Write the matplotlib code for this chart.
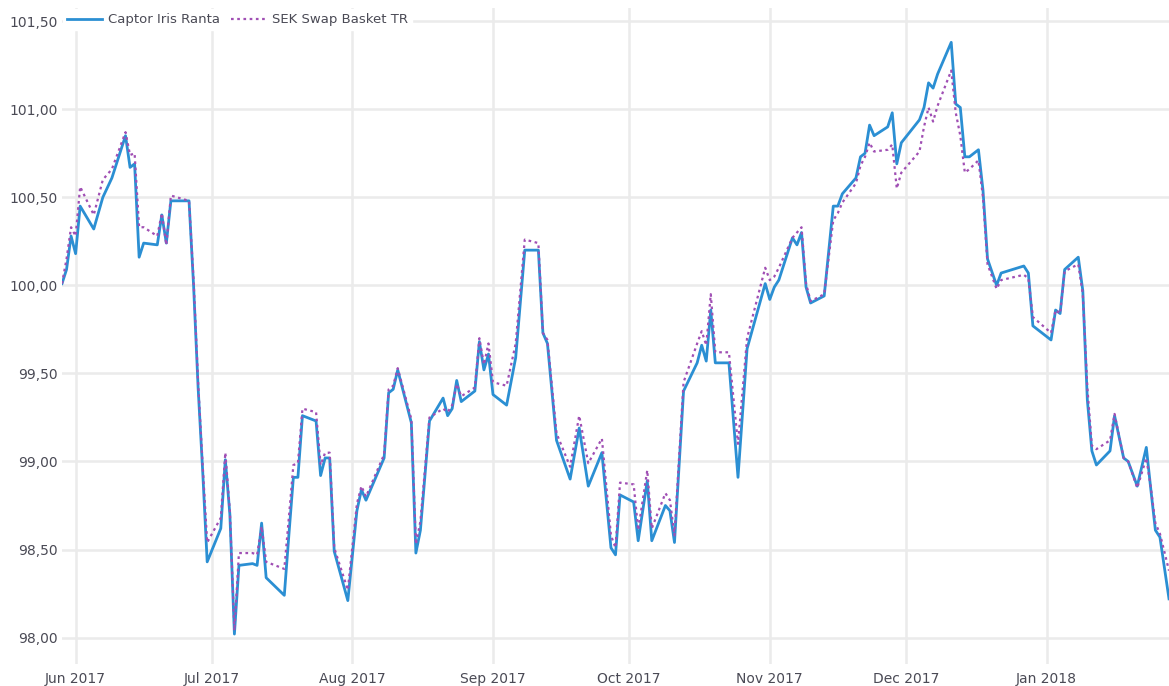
import numpy as np
import pandas as pd
import matplotlib
matplotlib.use('Agg')
import matplotlib.pyplot as plt
import matplotlib.dates as mdates
from matplotlib.ticker import FuncFormatter

dates = [
    '2017-05-29', '2017-05-30', '2017-05-31', '2017-06-01', '2017-06-02',
    '2017-06-05', '2017-06-07', '2017-06-09', '2017-06-12', '2017-06-13',
    '2017-06-14', '2017-06-15', '2017-06-16', '2017-06-19', '2017-06-20',
    '2017-06-21', '2017-06-22', '2017-06-26', '2017-06-27', '2017-06-28',
    '2017-06-29', '2017-06-30', '2017-07-03', '2017-07-04', '2017-07-05',
    '2017-07-06', '2017-07-07', '2017-07-10', '2017-07-11', '2017-07-12',
    '2017-07-13', '2017-07-17', '2017-07-18', '2017-07-19', '2017-07-20',
    '2017-07-21', '2017-07-24', '2017-07-25', '2017-07-26', '2017-07-27',
    '2017-07-28', '2017-07-31', '2017-08-02', '2017-08-03', '2017-08-04',
    '2017-08-08', '2017-08-09', '2017-08-10', '2017-08-11', '2017-08-14',
    '2017-08-15', '2017-08-16', '2017-08-18', '2017-08-21', '2017-08-22',
    '2017-08-23', '2017-08-24', '2017-08-25', '2017-08-28', '2017-08-29',
    '2017-08-30', '2017-08-31', '2017-09-01', '2017-09-04', '2017-09-06',
    '2017-09-08', '2017-09-11', '2017-09-12', '2017-09-13', '2017-09-15',
    '2017-09-18', '2017-09-20', '2017-09-22', '2017-09-25', '2017-09-27',
    '2017-09-28', '2017-09-29', '2017-10-02', '2017-10-03', '2017-10-05',
    '2017-10-06', '2017-10-09', '2017-10-10', '2017-10-11', '2017-10-13',
    '2017-10-16', '2017-10-17', '2017-10-18', '2017-10-19', '2017-10-20',
    '2017-10-23', '2017-10-25', '2017-10-27', '2017-10-31', '2017-11-01',
    '2017-11-02', '2017-11-03', '2017-11-06', '2017-11-07', '2017-11-08',
    '2017-11-09', '2017-11-10', '2017-11-13', '2017-11-15', '2017-11-16',
    '2017-11-17', '2017-11-20', '2017-11-21', '2017-11-22', '2017-11-23',
    '2017-11-24', '2017-11-27', '2017-11-28', '2017-11-29', '2017-11-30',
    '2017-12-04', '2017-12-05', '2017-12-06', '2017-12-07', '2017-12-08',
    '2017-12-11', '2017-12-12', '2017-12-13', '2017-12-14', '2017-12-15',
    '2017-12-17', '2017-12-18', '2017-12-19', '2017-12-21', '2017-12-22',
    '2017-12-27', '2017-12-28', '2017-12-29', '2018-01-02', '2018-01-03',
    '2018-01-04', '2018-01-05', '2018-01-08', '2018-01-09', '2018-01-10',
    '2018-01-11', '2018-01-12', '2018-01-15', '2018-01-16', '2018-01-18',
    '2018-01-19', '2018-01-21', '2018-01-23', '2018-01-24', '2018-01-25',
    '2018-01-26', '2018-01-28',
]

captor = [
    100.01, 100.09, 100.28, 100.18, 100.45,
    100.32, 100.50, 100.61, 100.85, 100.67,
    100.69, 100.16, 100.24, 100.23, 100.40,
    100.24, 100.48, 100.48, 100.00, 99.42,
    98.95, 98.43, 98.62, 99.01, 98.70,
    98.02, 98.41, 98.42, 98.41, 98.65,
    98.34, 98.24, 98.58, 98.91, 98.91,
    99.26, 99.23, 98.92, 99.02, 99.02,
    98.49, 98.21, 98.72, 98.84, 98.78,
    99.02, 99.39, 99.41, 99.52, 99.22,
    98.48, 98.61, 99.23, 99.36, 99.26,
    99.30, 99.46, 99.34, 99.40, 99.68,
    99.52, 99.61, 99.38, 99.32, 99.59,
    100.20, 100.20, 99.73, 99.67, 99.12,
    98.90, 99.19, 98.86, 99.05, 98.51,
    98.47, 98.81, 98.77, 98.55, 98.89,
    98.55, 98.75, 98.72, 98.54, 99.40,
    99.56, 99.66, 99.57, 99.86, 99.56,
    99.56, 98.91, 99.64, 100.01, 99.92,
    99.99, 100.03, 100.27, 100.23, 100.30,
    99.99, 99.90, 99.94, 100.45, 100.45,
    100.52, 100.61, 100.73, 100.75, 100.91,
    100.85, 100.90, 100.98, 100.69, 100.81,
    100.94, 101.01, 101.15, 101.12, 101.20,
    101.38, 101.03, 101.01, 100.73, 100.73,
    100.77, 100.54, 100.15, 100.00, 100.07,
    100.11, 100.07, 99.77, 99.69, 99.86,
    99.84, 100.09, 100.16, 99.97, 99.35,
    99.06, 98.98, 99.06, 99.26, 99.02,
    99.00, 98.86, 99.08, 98.84, 98.61,
    98.57, 98.22,
]

sek_swap = [
    100.01, 100.15, 100.33, 100.28, 100.56,
    100.40, 100.60, 100.66, 100.87, 100.74,
    100.75, 100.33, 100.33, 100.28, 100.41,
    100.23, 100.51, 100.48, 100.03, 99.45,
    98.98, 98.54, 98.68, 99.05, 98.72,
    98.04, 98.48, 98.48, 98.47, 98.63,
    98.43, 98.39, 98.68, 98.98, 98.99,
    99.30, 99.28, 98.98, 99.05, 99.05,
    98.51, 98.27, 98.76, 98.86, 98.80,
    99.04, 99.41, 99.43, 99.53, 99.24,
    98.53, 98.66, 99.25, 99.30, 99.28,
    99.32, 99.44, 99.37, 99.42, 99.70,
    99.55, 99.67, 99.45, 99.43, 99.67,
    100.26, 100.24, 99.73, 99.69, 99.16,
    98.97, 99.26, 98.99, 99.13, 98.58,
    98.51, 98.88, 98.87, 98.61, 98.95,
    98.62, 98.82, 98.78, 98.58, 99.45,
    99.67, 99.74, 99.66, 99.95, 99.62,
    99.62, 99.10, 99.70, 100.10, 100.03,
    100.05, 100.10, 100.27, 100.30, 100.33,
    100.01, 99.91, 99.95, 100.37, 100.41,
    100.47, 100.58, 100.68, 100.73, 100.81,
    100.76, 100.77, 100.80, 100.55, 100.64,
    100.76, 100.90, 101.01, 100.93, 101.02,
    101.22, 100.98, 100.85, 100.64, 100.66,
    100.71, 100.50, 100.12, 99.98, 100.03,
    100.06, 100.04, 99.82, 99.73, 99.86,
    99.84, 100.08, 100.12, 99.95, 99.42,
    99.09, 99.07, 99.12, 99.27, 99.02,
    99.00, 98.85, 99.02, 98.85, 98.65,
    98.59, 98.38,
]

y_ticks = [98.0, 98.5, 99.0, 99.5, 100.0, 100.5, 101.0, 101.5]
month_ticks = ['2017-06-01', '2017-07-01', '2017-08-01', '2017-09-01',
               '2017-10-01', '2017-11-01', '2017-12-01', '2018-01-01']

x = pd.to_datetime(dates)

fig = plt.figure(figsize=(11.69, 6.86), dpi=100)
ax = fig.add_axes([62 / 1169, 22 / 686, 1 - 62 / 1169, 656 / 686])

ax.plot(x, captor, color='#2b8fd3', lw=2.0, label='Captor Iris Ranta', zorder=3)
ax.plot(x, sek_swap, color='#a04fb4', lw=1.6, ls=(0, (1.2, 1.6)),
        label='SEK Swap Basket TR', zorder=4)

ax.set_xlim(x[0], x[-1])
ax.set_ylim(97.85, 101.575)

ax.set_yticks(y_ticks)
ax.yaxis.set_major_formatter(FuncFormatter(lambda v, p: f'{v:.2f}'.replace('.', ',')))
ax.set_xticks(pd.to_datetime(month_ticks))
ax.xaxis.set_major_formatter(mdates.DateFormatter('%b %Y'))

ax.grid(True, color='#ebebeb', lw=1.8)
ax.set_axisbelow(True)
for s in ax.spines.values():
    s.set_visible(False)
ax.tick_params(length=0, labelsize=10, colors='#4a4a55')
ax.tick_params(axis='y', pad=3)
ax.tick_params(axis='x', pad=6)

leg = ax.legend(loc='upper left', bbox_to_anchor=(0.0, 1.0), ncol=2,
                frameon=True, fontsize=9.5, handlelength=2.6,
                columnspacing=0.8, handletextpad=0.5, borderaxespad=0.1,
                borderpad=0.3)
leg.get_frame().set_facecolor('white')
leg.get_frame().set_edgecolor('white')
leg.get_frame().set_alpha(1.0)
for t in leg.get_texts():
    t.set_color('#4a4a55')

fig.savefig('out.png', dpi=100)
